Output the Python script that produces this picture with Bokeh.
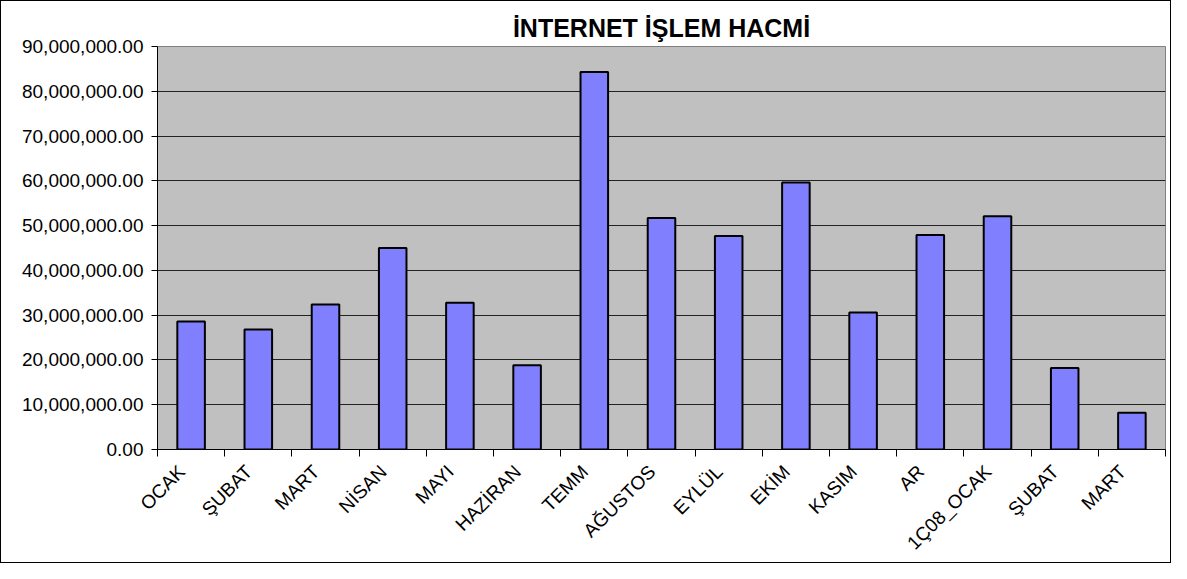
import math
from bokeh.plotting import figure
from bokeh.models import Range1d, FixedTicker, NumeralTickFormatter
from bokeh.embed import file_html
from bokeh.resources import INLINE

months = ["OCAK", "ŞUBAT", "MART", "NİSAN", "MAYI", "HAZİRAN", "TEMM", "AĞUSTOS",
          "EYLÜL", "EKİM", "KASIM", "AR", "1Ç08_OCAK", "ŞUBAT", "MART"]
volumes = [28.6e6, 26.8e6, 32.4e6, 45.0e6, 32.8e6, 18.8e6, 84.3e6, 51.7e6,
           47.7e6, 59.6e6, 30.6e6, 47.9e6, 52.1e6, 18.2e6, 8.2e6]
y_ticks = [0, 10e6, 20e6, 30e6, 40e6, 50e6, 60e6, 70e6, 80e6, 90e6]

n = len(months)
xs = [i + 0.5 for i in range(n)]
label_pos = [i + 0.36 for i in range(n)]

p = figure(width=1171, height=563, output_backend="svg", toolbar_location=None,
           x_range=Range1d(0, n), y_range=Range1d(0, 90e6),
           min_border_left=156, min_border_right=7, min_border_top=45,
           min_border_bottom=112)
p.styles = {"border": "1px solid black"}

p.title.text = "İNTERNET İŞLEM HACMİ"
p.title.align = "center"
p.title.vertical_align = "middle"
p.title.text_font = "Liberation Sans"
p.title.text_font_size = "25px"
p.title.text_font_style = "bold"
p.title.text_color = "black"
p.title.standoff = 8

p.background_fill_color = "#C0C0C0"
p.border_fill_color = "white"
p.outline_line_color = "#808080"

p.vbar(x=xs, top=volumes, width=0.41, bottom=0, fill_color="#8080FF",
       line_color="black", line_width=2)

# y axis
p.yaxis.ticker = FixedTicker(ticks=y_ticks)
p.yaxis.formatter = NumeralTickFormatter(format="0,0.00")
p.yaxis.major_label_text_font = "Liberation Sans"
p.yaxis.major_label_text_font_size = "19px"
p.yaxis.major_label_text_color = "black"
p.yaxis.major_tick_out = 6
p.yaxis.major_tick_in = 0
p.yaxis.minor_tick_line_color = None
p.yaxis.axis_line_color = "black"
p.yaxis.major_label_standoff = 8

# x axis
p.xaxis.ticker = FixedTicker(ticks=label_pos, minor_ticks=list(range(n + 1)))
p.xaxis.major_label_overrides = {x: m for x, m in zip(label_pos, months)}
p.xaxis.major_label_orientation = math.pi / 4
p.xaxis.major_label_text_font = "Liberation Sans"
p.xaxis.major_label_text_font_size = "19px"
p.xaxis.major_label_text_color = "black"
p.xaxis.major_tick_line_color = None
p.xaxis.major_tick_out = 7
p.xaxis.minor_tick_out = 7
p.xaxis.minor_tick_in = 0
p.xaxis.minor_tick_line_color = "black"
p.xaxis.axis_line_color = "black"
p.xaxis.major_label_standoff = 12

p.xgrid.grid_line_color = None
p.ygrid.ticker = FixedTicker(ticks=y_ticks)
p.ygrid.grid_line_color = "#222222"
p.ygrid.grid_line_width = 1

open("out.html", "w").write(file_html(p, INLINE))
